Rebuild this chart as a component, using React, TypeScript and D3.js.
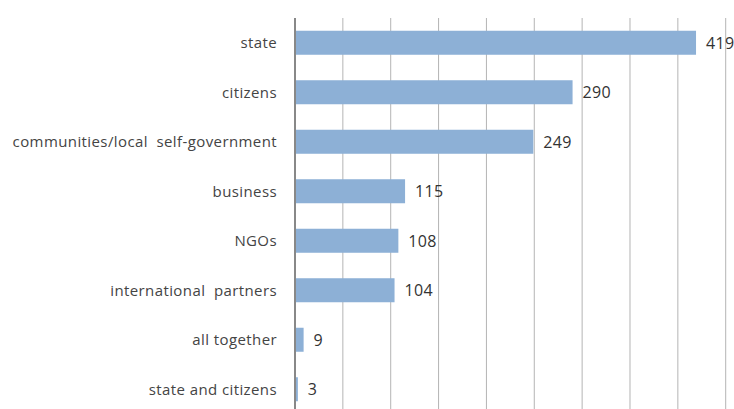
import React from "react";
import * as d3 from "d3";

const categories = [
  "state",
  "citizens",
  "communities/local  self-government",
  "business",
  "NGOs",
  "international  partners",
  "all together",
  "state and citizens",
];
const values = [419, 290, 249, 115, 108, 104, 9, 3];
const gridTicks = [50, 100, 150, 200, 250, 300, 350, 400, 450];

const W = 734;
const H = 409;
const x0 = 295;

export default function App() {
  const x = d3.scaleLinear().domain([0, 450]).range([x0, 725.7]);
  const y = d3
    .scaleBand<string>()
    .domain(categories)
    .range([18, 414])
    .paddingInner(0.515)
    .paddingOuter(0.2575);
  const font = "'Open Sans', sans-serif";
  return (
    <svg
      width={W}
      height={H}
      style={{ position: "absolute", left: 0, top: 0, display: "block", background: "#fff" }}
    >
      {gridTicks.map((t) => (
        <line key={t} x1={x(t)} x2={x(t)} y1={18} y2={H} stroke="#b4b4b4" strokeWidth={1} />
      ))}
      {categories.map((c, i) => (
        <g key={c}>
          <rect
            x={x(0)}
            y={y(c)!}
            width={x(values[i]) - x(0)}
            height={y.bandwidth()}
            fill="#8db0d6"
          />
          <text
            x={277}
            y={y(c)! + y.bandwidth() / 2}
            dy="0.35em"
            textAnchor="end"
            fontFamily={font}
            fontSize={15}
            letterSpacing={0.4}
            fill="#444"
            style={{ whiteSpace: "pre" }}
          >
            {c}
          </text>
          <text
            x={x(values[i]) + 10}
            y={y(c)! + y.bandwidth() / 2}
            dy="0.36em"
            fontFamily={font}
            fontSize={16}
            letterSpacing={0.3}
            fill="#333"
          >
            {values[i]}
          </text>
        </g>
      ))}
      <line x1={x0} x2={x0} y1={18} y2={H} stroke="#888" strokeWidth={2} />
    </svg>
  );
}
